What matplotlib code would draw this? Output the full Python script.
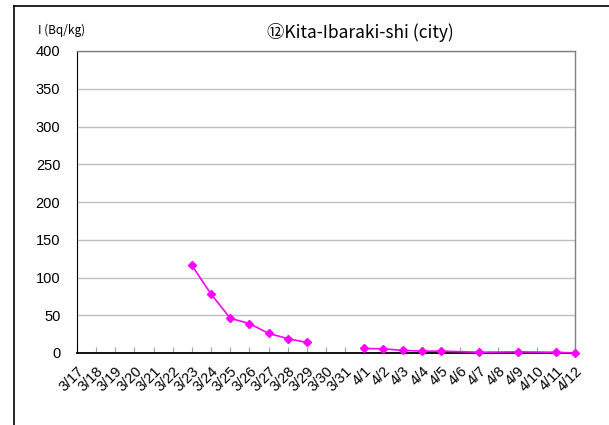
import numpy as np
import matplotlib
matplotlib.use("Agg")
import matplotlib.pyplot as plt
from matplotlib.lines import Line2D

plt.rcParams['font.family'] = ['Noto Sans CJK JP', 'DejaVu Sans']

# dates shown on the category axis
dates = ['3/17', '3/18', '3/19', '3/20', '3/21', '3/22', '3/23', '3/24', '3/25',
         '3/26', '3/27', '3/28', '3/29', '3/30', '3/31', '4/1', '4/2', '4/3',
         '4/4', '4/5', '4/6', '4/7', '4/8', '4/9', '4/10', '4/11', '4/12']
# iodine values (Bq/kg), None = no measurement
iodine = [None, None, None, None, None, None, 116, 78, 46,
          39, 26, 19, 14, None, None, 6, 5.5, 3.5,
          2.5, 2.5, None, 1, None, 1.5, None, 1, 0]

y_ticks = [0, 50, 100, 150, 200, 250, 300, 350, 400]
title = '⑫Kita-Ibaraki-shi (city)'
unit = 'I (Bq/kg)'

fig = plt.figure(figsize=(6.09, 4.25), dpi=100)
ax = fig.add_axes([77 / 609, 1 - 353 / 425, 498 / 609, 302 / 425])

x = np.arange(len(dates))
vals = np.array([np.nan if v is None else v for v in iodine], dtype=float)

# first run: 3/23 - 3/29, second run: 4/1 - 4/12 (joined over missing days)
split = dates.index('3/30')
for lo, hi in [(0, split), (split, len(dates))]:
    xs = x[lo:hi]
    vs = vals[lo:hi]
    ok = ~np.isnan(vs)
    ax.plot(xs[ok], vs[ok], color='#ff00ff', lw=1.2, marker='D', ms=4.5,
            clip_on=False, zorder=3)

ax.set_xlim(0, len(dates) - 1)
ax.set_ylim(0, 400)
ax.set_yticks(y_ticks)
ax.set_yticklabels([str(t) for t in y_ticks], fontsize=10.5,
                   family=['Liberation Sans', 'DejaVu Sans'])
ax.tick_params(axis='y', length=0, pad=12)
ax.grid(axis='y', color='#c0c0c0', lw=1)
ax.set_axisbelow(True)

ax.set_xticks(x)
ax.set_xticklabels(dates, rotation=45, ha='right', va='top', fontsize=10.5,
                   rotation_mode='anchor', family=['Liberation Sans', 'DejaVu Sans'])
ax.tick_params(axis='x', direction='in', length=4, color='#a0a0a0', pad=8)

for s in ['top', 'right']:
    ax.spines[s].set_color('#808080')
    ax.spines[s].set_linewidth(1)
ax.spines['left'].set_color('black')
ax.spines['bottom'].set_color('black')
ax.spines['bottom'].set_linewidth(1.3)

fig.text(360 / 609, 1 - 33 / 425, title, ha='center', va='center', fontsize=12.5)
fig.text(38 / 609, 1 - 30 / 425, unit, ha='left', va='center', fontsize=8.5)

# outer chart frame (only left and top are visible)
fig.add_artist(Line2D([14 / 609, 14 / 609], [0, 1 - 6 / 425], color='black', lw=1.2,
                      transform=fig.transFigure))
fig.add_artist(Line2D([14 / 609, 1], [1 - 6 / 425, 1 - 6 / 425], color='black', lw=1.2,
                      transform=fig.transFigure))

fig.savefig('out.png', dpi=100)
